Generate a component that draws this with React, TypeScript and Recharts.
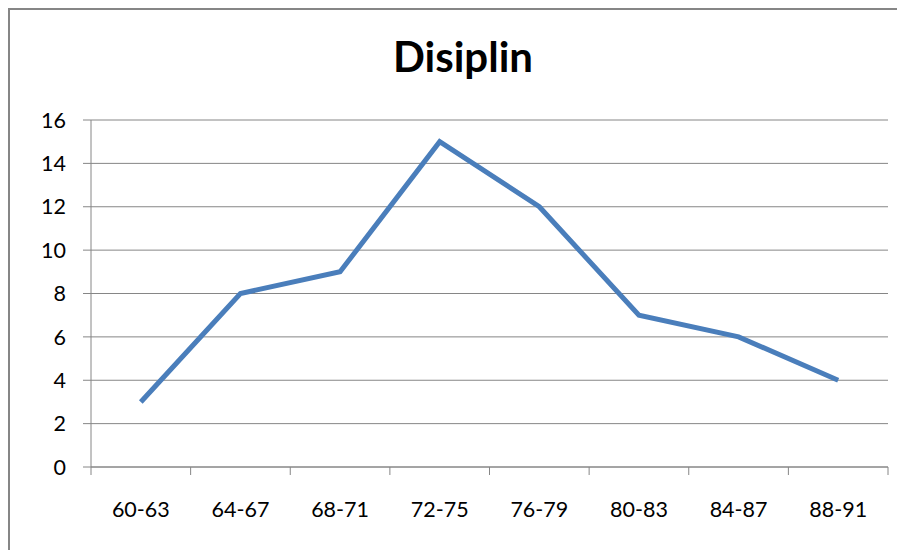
import { LineChart, Line, XAxis, YAxis, CartesianGrid, Customized } from "recharts";

const categories = ["60-63", "64-67", "68-71", "72-75", "76-79", "80-83", "84-87", "88-91"];
const values = [3, 8, 9, 15, 12, 7, 6, 4];
const yTicks = [0, 2, 4, 6, 8, 10, 12, 14, 16];
const title = "Disiplin";

const data = categories.map((c, i) => ({ name: c, value: values[i] }));

const axisGray = "#868686";
const font = "Lato, 'Open Sans', sans-serif";

// tick label at band centre, tick marks at the band edges (Excel style)
function CategoryTick(props: any) {
  const { x, y, payload, index, width } = props;
  const half = width / categories.length / 2;
  return (
    <g>
      <line x1={x - half} x2={x - half} y1={y} y2={y + 8} stroke={axisGray} strokeWidth={1} />
      {index === categories.length - 1 && (
        <line x1={x + half} x2={x + half} y1={y} y2={y + 8} stroke={axisGray} strokeWidth={1} />
      )}
      <text x={x} y={y + 35} dy="0.71em" textAnchor="middle" fill="#000" fontSize={21.5} fontFamily={font}>
        {payload.value}
      </text>
    </g>
  );
}

function Title() {
  return (
    <text x={455} y={64} textAnchor="middle" fontSize={42} fontWeight="bold" fontFamily={font} fill="#000">
      {title}
    </text>
  );
}

export default function App() {
  return (
    <div style={{ position: "relative", width: 897, height: 542 }}>
      <div
        style={{
          position: "absolute",
          left: 0,
          top: 0,
          width: 897,
          height: 542,
          borderLeft: `2px solid ${axisGray}`,
          borderTop: `2px solid ${axisGray}`,
          boxSizing: "border-box",
        }}
      />
      <LineChart
        width={897}
        height={542}
        data={data}
        margin={{ top: 112, right: 17, bottom: 0, left: 0 }}
        style={{ position: "absolute", left: 0, top: 0 }}
      >
        <Customized component={Title} />
        <CartesianGrid vertical={false} stroke={axisGray} strokeWidth={1} />
        <XAxis
          dataKey="name"
          scale="band"
          axisLine={{ stroke: axisGray, strokeWidth: 1 }}
          tickLine={false}
          tickSize={0}
          tickMargin={0}
          tick={<CategoryTick />}
          interval={0}
          height={83}
        />
        <YAxis
          width={83}
          domain={[0, 16]}
          ticks={yTicks}
          interval={0}
          axisLine={{ stroke: axisGray, strokeWidth: 1 }}
          tickLine={{ stroke: axisGray, strokeWidth: 1 }}
          tickSize={8}
          tickMargin={17}
          tick={{ fill: "#000", fontSize: 21.5, fontFamily: font }}
        />
        <Line
          dataKey="value"
          stroke="#4a7ebb"
          strokeWidth={5}
          strokeLinejoin="miter"
          strokeLinecap="butt"
          dot={false}
          activeDot={false}
          isAnimationActive={false}
        />
      </LineChart>
    </div>
  );
}
